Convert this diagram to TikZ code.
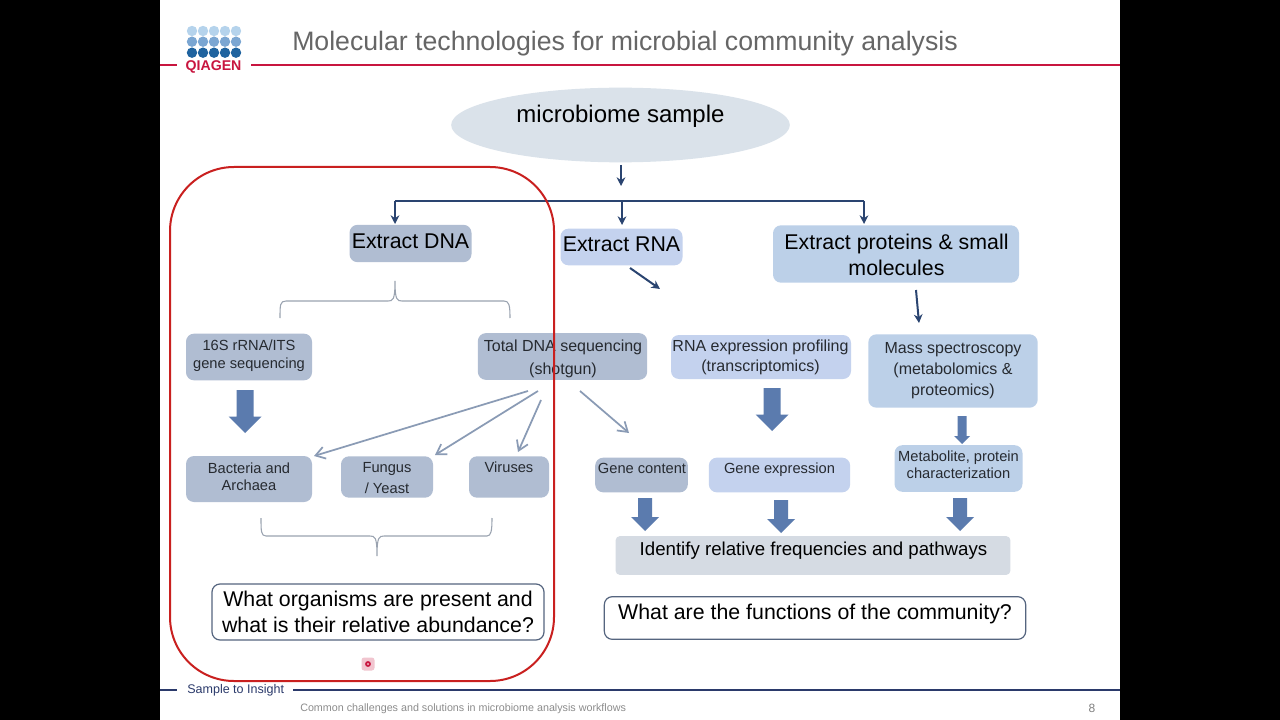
\documentclass[tikz,border=0pt]{standalone}
\usepackage{fontspec}
\setmainfont{Liberation Sans}
\usetikzlibrary{arrows.meta,shapes.geometric}
\definecolor{qred}{HTML}{C8153F}
\definecolor{qnavy}{HTML}{2B3A6B}
\definecolor{dkarrow}{HTML}{2A4470}
\definecolor{boxa}{HTML}{B0BDD2}
\definecolor{boxb}{HTML}{C4D2EE}
\definecolor{boxc}{HTML}{BCD0E8}
\definecolor{boxd}{HTML}{D5DBE3}
\definecolor{ell}{HTML}{DAE2EA}
\definecolor{thin}{HTML}{8A9BB5}
\definecolor{brace}{HTML}{9AA3B0}
\definecolor{block}{HTML}{5B7BAE}
\definecolor{ring}{HTML}{C9201F}
\definecolor{dota}{HTML}{B5D3EC}
\definecolor{dotb}{HTML}{7BA6D2}
\definecolor{dotc}{HTML}{1F639F}
\definecolor{askline}{HTML}{55657F}
\definecolor{smalltxt}{HTML}{262A30}
\tikzset{
  x=0.75pt,y=-0.75pt,
  boxn/.style={rounded corners=6pt,inner sep=0pt,anchor=center},
  ask/.style={boxn,draw=askline,line width=0.9pt,fill=white},
  big/.style={font=\fs{16},align=center,inner sep=0pt,text=black},
  small/.style={font=\fs{11},align=center,inner sep=0pt,text=smalltxt},
  med/.style={font=\fs{12},align=center,inner sep=0pt,text=smalltxt},
  dkline/.style={draw=dkarrow,line width=1.5pt,-{Stealth[length=6.5pt,width=6.5pt]}},
  thinarrow/.style={draw=thin,line width=1.3pt,-{Straight Barb[length=7pt,width=9pt]}},
  bracket/.style={draw=brace,line width=0.8pt},
}
\newcommand{\fs}[1]{\fontsize{#1}{#1}\selectfont}
\newcommand{\blockarrow}[5]{% x, top, bottom, half head (also head length), half shaft
  \fill[block] (#1-#5,#2) -- (#1+#5,#2) -- (#1+#5,#3-#4) -- (#1+#4,#3-#4) -- (#1,#3) -- (#1-#4,#3-#4) -- (#1-#5,#3-#4) -- cycle;}
\begin{document}
\begin{tikzpicture}
\useasboundingbox (0,0) rectangle (1280,720);
\fill[black] (0,0) rectangle (1280,720);
\fill[white] (160,0) rectangle (1120,720);
% logo
\foreach \x in {192,203,214,225,236}{
  \fill[dota] (\x,31) circle[radius=5.2];
  \fill[dotb] (\x,41.7) circle[radius=5.2];
  \fill[dotc] (\x,52.7) circle[radius=5.2];
}
\node[text=qred,font=\bfseries\fs{10.6},inner sep=0pt] (logo) at (213.5,67) {QIAGEN};
\draw[qred,line width=1.2pt] (160,65) -- (177,65) (251,65) -- (1120,65);
\node[anchor=west,text=black!60,inner sep=0pt,font=\fs{20}] (title) at (292,44) {Molecular technologies for microbial community analysis};
% ellipse
\node[fill=ell,ellipse,minimum width=254pt,minimum height=56pt,inner sep=0pt] (sample) at (620.5,125) {};
\node[font=\fs{18},inner sep=0pt] (sampletxt) at (620.5,116) {microbiome sample};
% top connectors
\coordinate (s1) at (621,165);
\coordinate (s2) at (621,186);
\draw[dkline] (s1) -- (s2);
\coordinate (busL) at (395,201);
\coordinate (busM) at (622,201);
\coordinate (busR) at (864,201);
\coordinate (dnaT) at (395,224);
\coordinate (rnaT) at (622,225);
\coordinate (protT) at (864,224);
\draw[draw=dkarrow,line width=1.5pt] (busL) -- (busR);
\draw[dkline] (busL) -- (dnaT);
\draw[dkline] (busM) -- (rnaT);
\draw[dkline] (busR) -- (protT);
% extract
\node[boxn,fill=boxa,minimum width=91.5pt,minimum height=28pt] (dna) at (410.5,243.5) {};
\node[big] (dnat) at (410.5,241) {Extract DNA};
\node[boxn,fill=boxb,minimum width=91.5pt,minimum height=27.5pt] (rna) at (621.5,247) {};
\node[big] (rnat) at (621.5,244) {Extract RNA};
\node[boxn,fill=boxc,minimum width=184.5pt,minimum height=43pt] (prot) at (896,254) {};
\node[big] (prott) at (896.5,255) {Extract proteins \& small\\[3.5pt]molecules};
\coordinate (ra) at (630,268);
\coordinate (rb) at (660,289);
\draw[dkline] (ra) -- (rb);
\coordinate (pa) at (916,290);
\coordinate (pb) at (919,323);
\draw[dkline] (pa) -- (pb);
% bracket top
\draw[bracket] (280,318) .. controls (280,305) and (280,301) .. (286,301) -- (388,301) .. controls (393,301) and (395,300) .. (395,281) .. controls (395,300) and (397,301) .. (402,301) -- (504,301) .. controls (509,301) and (510,305) .. (510,318);
% row 2
\node[boxn,fill=boxa,minimum width=94.5pt,minimum height=35pt] (s16) at (249,357) {};
\node[small] (s16t) at (249,355.5) {16S rRNA/ITS\\[2.5pt]gene sequencing};
\node[boxn,fill=boxa,minimum width=127pt,minimum height=35pt] (total) at (562.5,356.5) {};
\node[med] (totalt) at (563,359) {Total DNA sequencing\\[5pt](shotgun)};
\node[boxn,fill=boxb,minimum width=135pt,minimum height=33pt] (rnaprof) at (761,357) {};
\node[med] (rnaproft) at (760.5,357.5) {RNA expression profiling\\[3pt](transcriptomics)};
\node[boxn,fill=boxc,minimum width=127pt,minimum height=55pt] (mass) at (953,371) {};
\node[med] (masst) at (953,370.5) {Mass spectroscopy\\[4pt](metabolomics \&\\[4pt]proteomics)};
% thin arrows
\coordinate (t1) at (528,391); \coordinate (t1e) at (314,456);
\coordinate (t2) at (538,391); \coordinate (t2e) at (435,455);
\coordinate (t3) at (541,400); \coordinate (t3e) at (518,452);
\coordinate (t4) at (580,391); \coordinate (t4e) at (629,433);
\draw[thinarrow] (t1) -- (t1e);
\draw[thinarrow] (t2) -- (t2e);
\draw[thinarrow] (t3) -- (t3e);
\draw[thinarrow] (t4) -- (t4e);
% block arrows
\blockarrow{245}{390}{433}{16.5}{8.5}
\blockarrow{772}{388}{431}{16.5}{8.5}
\blockarrow{962}{416}{444}{8}{4.5}
\blockarrow{645}{498}{531}{14}{7}
\blockarrow{781}{500}{533}{14}{7}
\blockarrow{960}{498}{531}{14}{7}
% row 3
\node[boxn,fill=boxa,minimum width=94.5pt,minimum height=34.5pt] (bact) at (249,479) {};
\node[small] (bactt) at (249,476.5) {Bacteria and\\[2pt]Archaea};
\node[boxn,fill=boxa,minimum width=69pt,minimum height=31pt] (fung) at (387,477) {};
\node[small] (fungt) at (387,478) {Fungus\\[5pt]/ Yeast};
\node[boxn,fill=boxa,minimum width=60pt,minimum height=31pt] (vir) at (509,477) {};
\node[small] (virt) at (509,467) {Viruses};
\node[boxn,fill=boxa,minimum width=69.5pt,minimum height=26pt] (gene) at (641.5,475) {};
\node[small] (genet) at (642,468.5) {Gene content};
\node[boxn,fill=boxb,minimum width=106pt,minimum height=26pt] (gex) at (779.5,475) {};
\node[small] (gext) at (779.5,469.5) {Gene expression};
\node[boxn,fill=boxc,minimum width=96pt,minimum height=35pt] (meta) at (958.5,468.5) {};
\node[small] (metat) at (958.5,464.5) {Metabolite, protein\\[2pt]characterization};
% bottom bracket
\draw[bracket] (261,518) .. controls (261,531) and (261,536) .. (266,536) -- (370,536) .. controls (375,536) and (377,537) .. (377,556) .. controls (377,537) and (379,536) .. (384,536) -- (487,536) .. controls (491,536) and (492,531) .. (492,518);
% identify
\node[boxn,rounded corners=3pt,fill=boxd,minimum width=296pt,minimum height=29pt] (ident) at (813,555.5) {};
\node[font=\fs{14},inner sep=0pt] (identt) at (813.5,551) {Identify relative frequencies and pathways};
% questions
\node[ask,minimum width=249pt,minimum height=42pt] (q1) at (378,612) {};
\node[big] (q1t) at (378,611.5) {What organisms are present and\\[3.5pt]what is their relative abundance?};
\node[ask,minimum width=316pt,minimum height=32pt] (q2) at (815,618) {};
\node[big] (q2t) at (815,614) {What are the functions of the community?};
% ring
\draw[ring,line width=1.5pt,rounded corners=48pt] (170,167) rectangle (554,681);
% pointer
\fill[qred!25,rounded corners=2pt] (361.5,657.5) rectangle (374.5,670.5);
\draw[qred,line width=1.3pt] (368,664) circle[radius=2];
% footer
\draw[qnavy,line width=1.4pt] (160,690) -- (177,690) (293,690) -- (1120,690);
\node[anchor=west,inner sep=0pt,text=qnavy,font=\fs{9.4}] (foot1) at (187,690) {Sample to Insight};
\node[anchor=west,inner sep=0pt,text=black!45,font=\fs{8.05}] (foot2) at (300,709) {Common challenges and solutions in microbiome analysis workflows};
\node[inner sep=0pt,text=black!50,font=\fs{9}] (page) at (1092,708) {8};
\end{tikzpicture}
\end{document}
